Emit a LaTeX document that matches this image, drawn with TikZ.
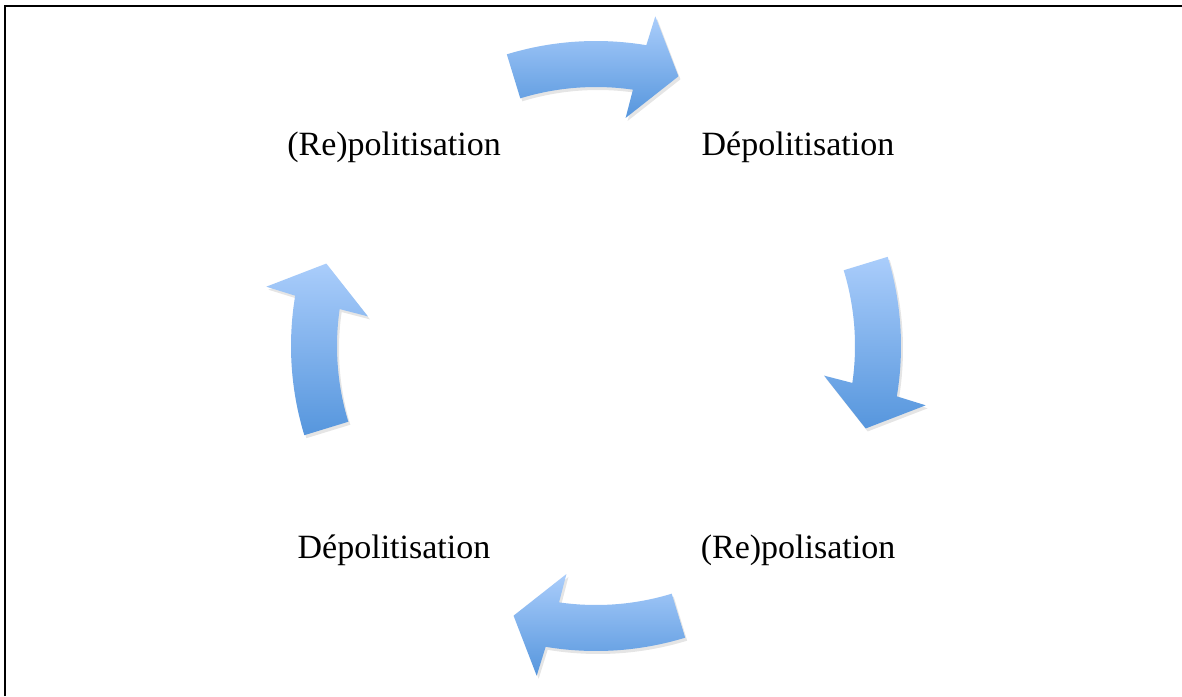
\documentclass[tikz,border=0pt]{standalone}
\usepackage{fontspec}
\setmainfont{Liberation Serif}
\definecolor{arrtop}{RGB}{170,205,251}
\definecolor{arrbot}{RGB}{86,150,221}
\newcommand\arcarrowpath[1]{(#1+17:305pt) arc[start angle=#1+17, end angle=#1-9.5, radius=305pt] -- (#1-10.2:335pt) -- (#1-17:282pt) -- (#1-7.4:230pt) -- (#1-8.2:259pt) arc[start angle=#1-8.2, end angle=#1+17, radius=259pt] -- cycle}
\tikzset{
  lbl/.style={anchor=base, inner sep=0pt, font=\fontsize{34}{40}\selectfont},
  arrshadow/.style={fill=black, opacity=0.10},
  arrbody/.style={top color=arrtop, bottom color=arrbot, draw=none},
  frame/.style={line width=2pt, black}
}
\begin{document}
\begin{tikzpicture}
\useasboundingbox (0pt,0pt) rectangle (1182pt,-696pt);
\fill[white] (0pt,0pt) rectangle (1182pt,-696pt);
\draw[frame] (5pt,-696pt) -- (5pt,-5.8pt) -- (1182pt,-5.8pt);
\begin{scope}[shift={(596pt,-346pt)}]
  \foreach \a in {90,0,-90,180} {
    \begin{scope}[shift={(2pt,-3pt)}]
      \path[arrshadow] \arcarrowpath{\a};
    \end{scope}
    \path[arrbody] \arcarrowpath{\a};
  }
\end{scope}
\node[lbl] (repol1) at (394pt,-155pt) {(Re)politisation};
\node[lbl] (depol1) at (798pt,-155pt) {Dépolitisation};
\node[lbl] (depol2) at (394pt,-558pt) {Dépolitisation};
\node[lbl] (repol2) at (798pt,-558pt) {(Re)polisation};
\end{tikzpicture}
\end{document}
